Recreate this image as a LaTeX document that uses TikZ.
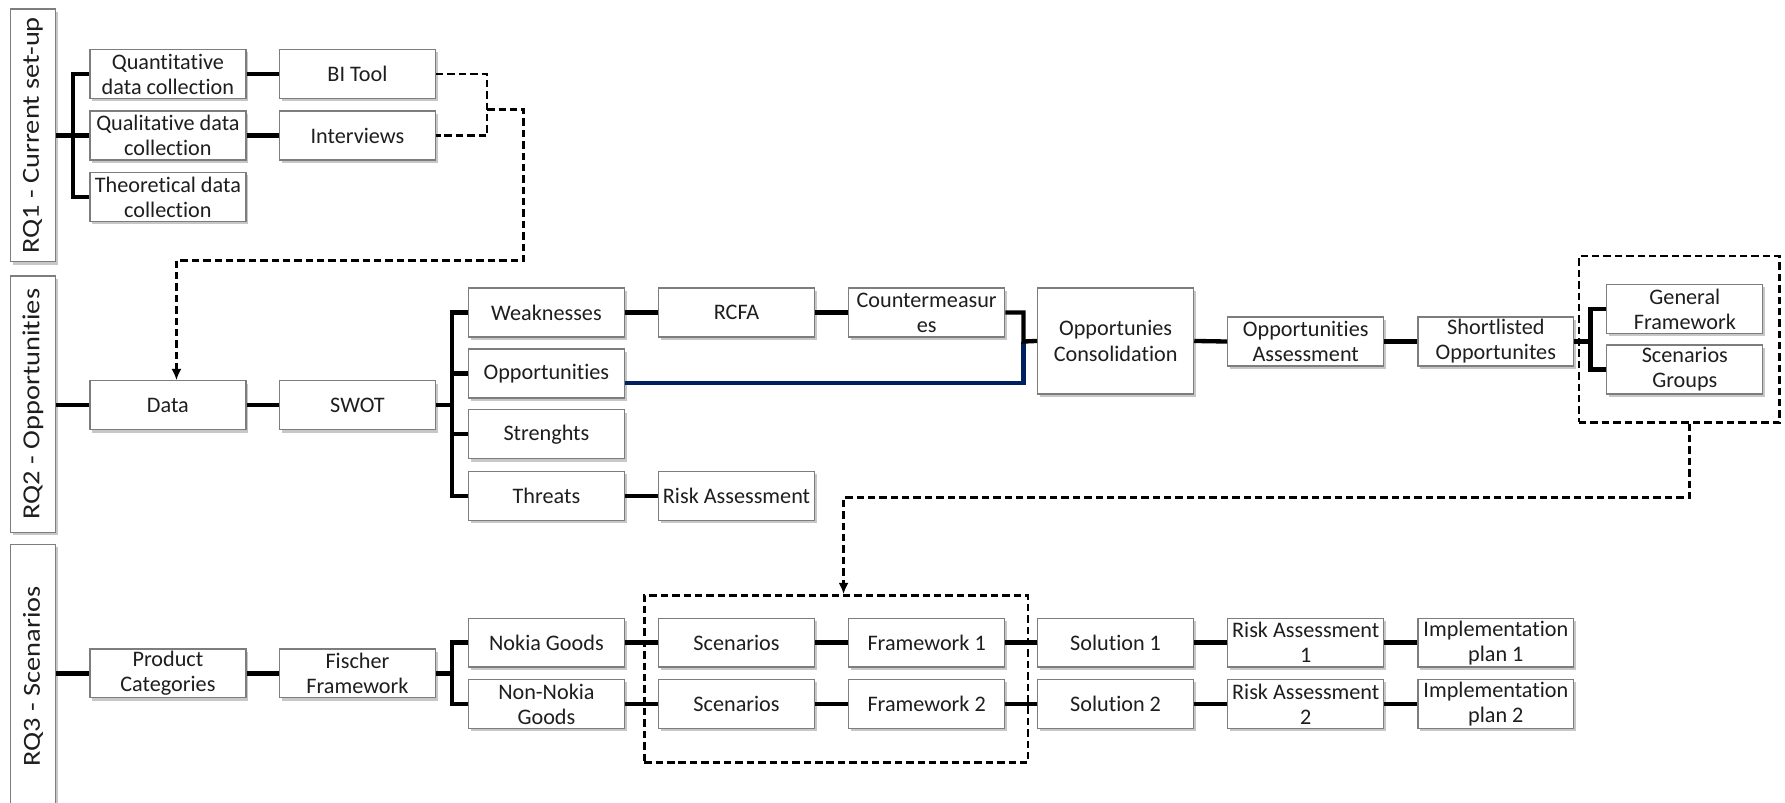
\documentclass[tikz,border=0pt]{standalone}
\usepackage{fontspec}
\setmainfont{Carlito}[Ligatures=NoCommon]
\usepackage{graphicx}
\usetikzlibrary{arrows.meta,shadows,calc}

\definecolor{boxedge}{RGB}{125,125,125}
\definecolor{navyline}{RGB}{0,32,96}
\definecolor{textgrey}{RGB}{30,30,30}

\begin{document}
\begin{tikzpicture}[x=1pt,y=-1pt,
  box/.style={draw=boxedge, line width=1.1pt, fill=white,
    minimum width=137pt, minimum height=43pt, inner sep=0pt,
    align=center, text=textgrey, font=\fontsize{19.5}{22}\selectfont,
    drop shadow={shadow xshift=2pt, shadow yshift=-2.5pt, fill=black, opacity=0.22}},
  rqbox/.style={box, minimum width=40pt, font=\fontsize{21.5}{24}\selectfont},
  group/.style={draw=black, dashed, dash pattern=on 6.5pt off 3.5pt, line width=2.2pt,
    inner sep=0pt},
  conn/.style={line width=3.8pt, black},
  navyconn/.style={line width=3.8pt, navyline},
  dashconn/.style={line width=2.2pt, dash pattern=on 6.5pt off 3.5pt, black},
  dasharrow/.style={dashconn, -{Latex[length=10pt,width=9pt]}}
]
\clip (0,0) rectangle (1568,705);

% ---------- research question labels ----------
\node[rqbox, minimum height=222pt] (rq1) at (29,119)
  {\rotatebox{90}{\scalebox{1.16}[1]{RQ1 - Current set-up}}};
\node[rqbox, minimum height=225pt] (rq2) at (29,355)
  {\rotatebox{90}{\scalebox{1.16}[1]{RQ2 - Opportunities}}};
\node[rqbox, minimum height=232pt] (rq3) at (29,594)
  {\rotatebox{90}{\scalebox{1.16}[1]{RQ3 - Scenarios}}};

% ---------- RQ1: current set-up ----------
\node[box] (quant) at (147.5,65)  {Quantitative\\data collection};
\node[box] (bi)    at (314,65)    {BI Tool};
\node[box] (qual)  at (147.5,119) {Qualitative data\\collection};
\node[box] (intv)  at (314,119)   {Interviews};
\node[box] (theo)  at (147.5,173) {Theoretical data\\collection};

% ---------- RQ2: opportunities ----------
\node[box] (data)  at (147.5,356) {Data};
\node[box] (swot)  at (314,356)   {SWOT};
\node[box] (weak)  at (480,274.5) {Weaknesses};
\node[box] (oppt)  at (480,328)   {Opportunities};
\node[box] (strg)  at (480,381.5) {Strenghts};
\node[box] (thrt)  at (480,435.5) {Threats};
\node[box] (rcfa)  at (647,274.5) {RCFA};
\node[box] (cm)    at (814,274.5) {Countermeasur\\es};
\node[box] (risk)  at (647,435.5) {Risk Assessment};
\node[box, minimum height=93pt] (cons) at (980,299.5) {Opportunies\\Consolidation};
\node[box] (oass)  at (1147,300)  {Opportunities\\Assessment};
\node[box] (slst)  at (1314,300)  {Shortlisted\\Opportunites};
\node[box] (genf)  at (1480,271.5) {General\\Framework};
\node[box] (scgr)  at (1480,324.5) {Scenarios\\Groups};
\node[group, minimum width=176pt, minimum height=146pt] (grp1) at (1475,298) {};

% ---------- RQ3: scenarios ----------
\node[box] (prod)  at (147.5,591.5) {Product\\Categories};
\node[box] (fisch) at (314,591.5)   {Fischer\\Framework};
\node[box] (nok)   at (480,564.5)   {Nokia Goods};
\node[box] (nnok)  at (480,618.5)   {Non-Nokia\\Goods};
\node[box] (sc1)   at (647,564.5)   {Scenarios};
\node[box] (sc2)   at (647,618.5)   {Scenarios};
\node[box] (fw1)   at (814,564.5)   {Framework 1};
\node[box] (fw2)   at (814,618.5)   {Framework 2};
\node[box] (sol1)  at (980,564.5)   {Solution 1};
\node[box] (sol2)  at (980,618.5)   {Solution 2};
\node[box] (ra1)   at (1147,564.5)  {Risk Assessment\\1};
\node[box] (ra2)   at (1147,618.5)  {Risk Assessment\\2};
\node[box] (imp1)  at (1314,564.5)  {Implementation\\plan 1};
\node[box] (imp2)  at (1314,618.5)  {Implementation\\plan 2};
\node[group, minimum width=337pt, minimum height=147pt] (grp2) at (734.5,596.5) {};

% ---------- junction points ----------
\coordinate (k1) at (64,119);
\coordinate (k2) at (397,356);
\coordinate (k3) at (899,300);
\coordinate (k4) at (1397,300);
\coordinate (k5) at (397,591.5);
\coordinate (d1) at (428,96);
\coordinate (d2) at (460,229);
\coordinate (d3) at (1484,437);

% ---------- RQ1 connectors ----------
\draw[conn] (rq1.east |- qual.west) -- (qual.west);
\draw[conn] (quant.west) -| (k1) |- (theo.west);
\draw[conn] (quant.east) -- (bi.west);
\draw[conn] (qual.east) -- (intv.west);
\draw[dashconn] (bi.east) -| (d1) |- (intv.east);
\draw[dasharrow] (d1) -| (d2) -| ([xshift=7.5pt]data.north);

% ---------- RQ2 connectors ----------
\draw[conn] (rq2.east |- data.west) -- (data.west);
\draw[conn] (data.east) -- (swot.west);
\draw[conn] (swot.east) -- (k2);
\draw[conn] (weak.west) -| (k2) |- (thrt.west);
\draw[conn] (oppt.west) -- (oppt.west -| k2);
\draw[conn] (strg.west) -- (strg.west -| k2);
\draw[conn] (weak.east) -- (rcfa.west);
\draw[conn] (rcfa.east) -- (cm.west);
\draw[conn] (thrt.east) -- (risk.west);
\draw[navyconn] ([yshift=-8.5pt]oppt.east) -| (k3);
\draw[conn] (cm.east) -| (k3) -- (cons.west);
\draw[conn] (cons.east) -- (oass.west);
\draw[conn] (oass.east) -- (slst.west);
\draw[conn] (slst.east) -- (k4);
\draw[conn] (genf.west) -| (k4) |- (scgr.west);
\draw[dasharrow] ([xshift=9pt]grp1.south) -- (d3) -| ([xshift=6.5pt]grp2.north);

% ---------- RQ3 connectors ----------
\draw[conn] (rq3.east |- prod.west) -- (prod.west);
\draw[conn] (prod.east) -- (fisch.west);
\draw[conn] (fisch.east) -- (k5);
\draw[conn] (nok.west) -| (k5) |- (nnok.west);
\foreach \a/\b in {nok/sc1, sc1/fw1, fw1/sol1, sol1/ra1, ra1/imp1,
                   nnok/sc2, sc2/fw2, fw2/sol2, sol2/ra2, ra2/imp2}
  \draw[conn] (\a.east) -- (\b.west);
\end{tikzpicture}
\end{document}
